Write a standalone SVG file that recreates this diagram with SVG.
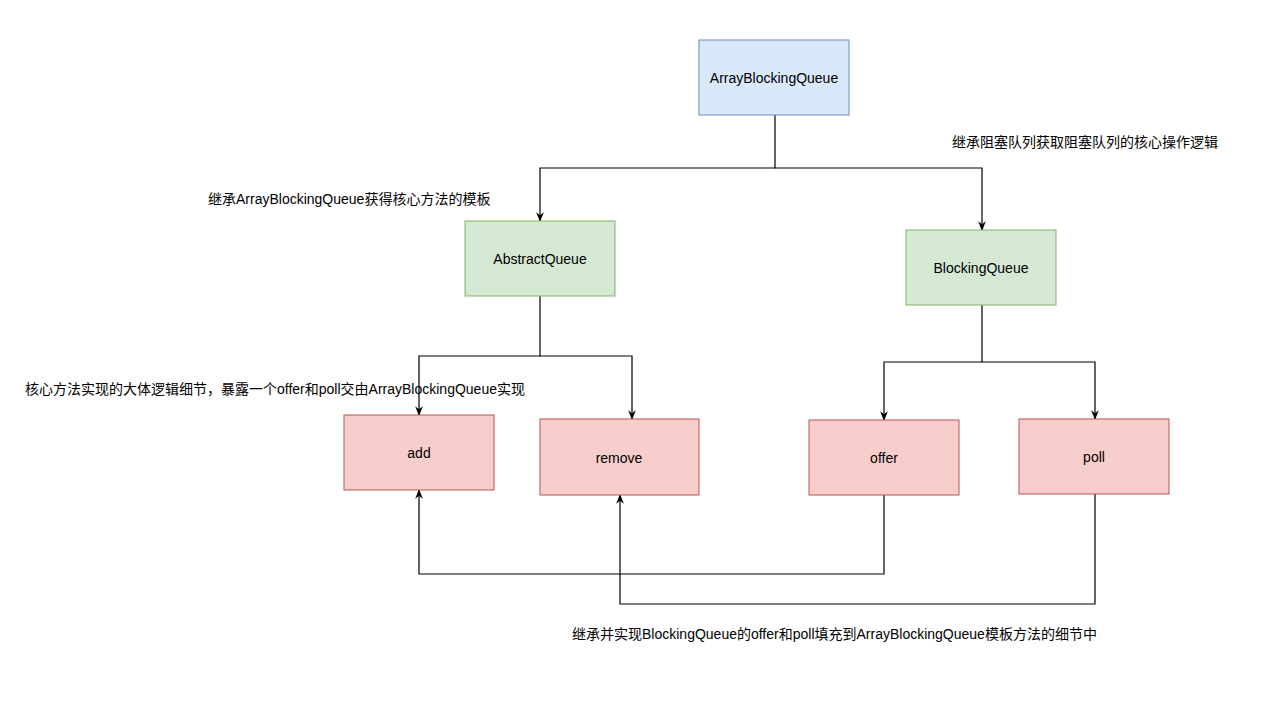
<svg xmlns="http://www.w3.org/2000/svg" width="1268" height="707" viewBox="0 0 1268 707">
<style>
text{font-family:"Liberation Sans","Noto Sans CJK SC",sans-serif;font-size:14px;fill:#000}
.c{text-anchor:middle;dominant-baseline:central}
.b{fill:#dae8fc;stroke:#6c8ebf}
.g{fill:#d5e8d4;stroke:#82b366}
.r{fill:#f8cecc;stroke:#b85450}
.l{fill:none;stroke:#000;stroke-width:1.2}
</style>
<defs><marker id="a" viewBox="0 0 10 10" refX="9" refY="5" markerWidth="8" markerHeight="8" orient="auto"><path d="M0,1L10,5L0,9L3,5z" fill="#000"/></marker></defs>
<rect width="1268" height="707" fill="#fff"/>
<g id="connectors">
<path class="l" marker-end="url(#a)" d="M775,115V168H540V221"/>
<path class="l" marker-end="url(#a)" d="M775,168H982V230"/>
<path class="l" marker-end="url(#a)" d="M540,296V356H419V415"/>
<path class="l" marker-end="url(#a)" d="M540,356H632V419"/>
<path class="l" marker-end="url(#a)" d="M982,305V362H884V420"/>
<path class="l" marker-end="url(#a)" d="M982,362H1095V419"/>
<path class="l" marker-end="url(#a)" d="M884,495V574H419V490"/>
<path class="l" marker-end="url(#a)" d="M1095,494V604H620V495"/>
</g>
<g id="abq"><rect class="b" x="699" y="40" width="150" height="75"/><text class="c" x="774" y="78">ArrayBlockingQueue</text></g>
<g id="aq"><rect class="g" x="465" y="221" width="150" height="75"/><text class="c" x="540" y="259">AbstractQueue</text></g>
<g id="bq"><rect class="g" x="906" y="230" width="150" height="75"/><text class="c" x="981" y="268">BlockingQueue</text></g>
<g id="add"><rect class="r" x="344" y="415" width="150" height="75"/><text class="c" x="419" y="453">add</text></g>
<g id="remove"><rect class="r" x="540" y="419" width="159" height="76"/><text class="c" x="619" y="458">remove</text></g>
<g id="offer"><rect class="r" x="809" y="420" width="150" height="75"/><text class="c" x="884" y="458">offer</text></g>
<g id="poll"><rect class="r" x="1019" y="419" width="150" height="75"/><text class="c" x="1094" y="457">poll</text></g>
<g id="labels">
<text x="208" y="204">继承ArrayBlockingQueue获得核心方法的模板</text>
<text x="952" y="147">继承阻塞队列获取阻塞队列的核心操作逻辑</text>
<text x="25" y="394">核心方法实现的大体逻辑细节，暴露一个offer和poll交由ArrayBlockingQueue实现</text>
<text x="572" y="639">继承并实现BlockingQueue的offer和poll填充到ArrayBlockingQueue模板方法的细节中</text>
</g>
</svg>
